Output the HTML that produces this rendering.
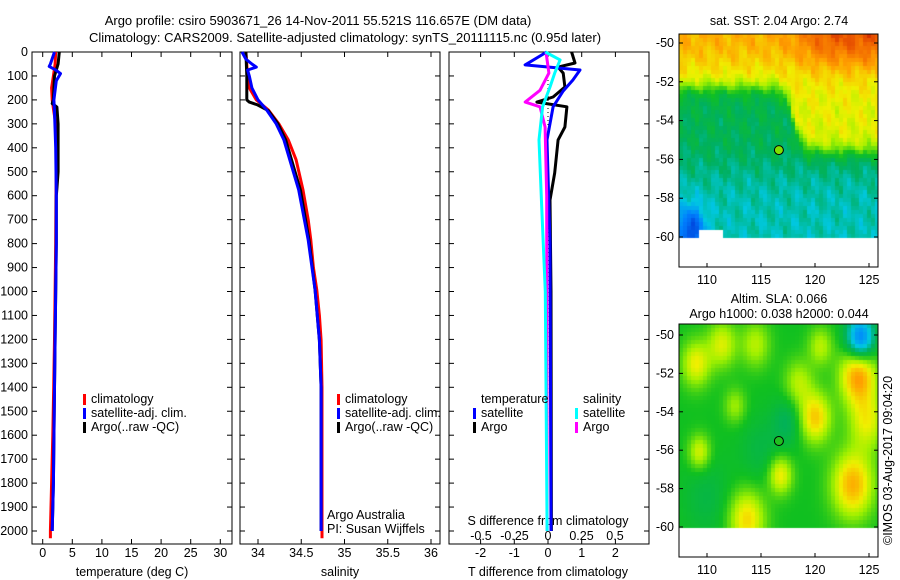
<!DOCTYPE html>
<html><head><meta charset="utf-8">
<style>
html,body{margin:0;padding:0;background:#fff;}
svg text{font-family:"Liberation Sans",Arial,sans-serif;font-size:12.5px;fill:#000;}
#wrap{position:relative;width:900px;height:580px;overflow:hidden;}
canvas{position:absolute;}
</style></head>
<body>
<div id="wrap">
<canvas id="map1" width="199" height="206" style="left:679px;top:34px;"></canvas>
<canvas id="map2" width="199" height="205" style="left:679px;top:324px;"></canvas>
<svg id="svg" width="900" height="580" style="position:absolute;left:0;top:0;" xmlns="http://www.w3.org/2000/svg">
<text x="318" y="25" text-anchor="middle" style="font-size:13px">Argo profile: csiro 5903671_26 14-Nov-2011 55.521S 116.657E (DM data)</text>
<text x="345" y="42" text-anchor="middle" style="font-size:13px">Climatology: CARS2009. Satellite-adjusted climatology: synTS_20111115.nc (0.95d later)</text>
<g id="g"></g>
</svg>
</div>
<script>
// ---------- data ----------
const depthTicks=[0,100,200,300,400,500,600,700,800,900,1000,1100,1200,1300,1400,1500,1600,1700,1800,1900,2000];
const tempTicks=[0,5,10,15,20,25,30];
const salTicks=[34,34.5,35,35.5,36];
const salTickLabels=["34","34.5","35","35.5","36"];
const tdTicks=[-2,-1,0,1,2];
const sdTicks=[-0.5,-0.25,0,0.25,0.5];
const sdTickLabels=["-0.5","-0.25","0","0.25","0.5"];
const lonTicks=[110,115,120,125];
const latTicks=[-50,-52,-54,-56,-58,-60];

const climTDepth=[0,50,100,150,200,250,300,400,600,800,1000,1200,1400,1600,1800,2000,2030];
const climT=[2.2,2.1,1.8,1.5,1.6,1.9,2.2,2.3,2.25,2.2,2.1,2.0,1.85,1.7,1.5,1.3,1.3];
const satTDepth=[0,50,60,75,90,120,200,250,400,600,800,1000,1400,1800,2000];
const satT=[2.0,1.3,1.1,2.2,3.0,2.3,1.9,2.0,2.2,2.3,2.3,2.2,2.0,1.8,1.6];
const argoTDepth=[0,50,100,200,215,230,300,500,570,600,800,1000,1400,1800,2000];
const argoT=[2.8,2.6,2.0,1.8,1.6,2.4,2.6,2.6,2.4,2.3,2.3,2.2,2.0,1.8,1.6];

const climSDepth=[0,100,150,200,242,300,367,450,576,700,785,900,994,1100,1203,1400,2000,2030];
const climS=[33.86,33.88,33.9,33.98,34.12,34.24,34.35,34.44,34.52,34.58,34.61,34.64,34.68,34.71,34.73,34.74,34.74,34.74];
const satSDepth=[0,30,50,63,75,100,150,200,242,300,367,576,785,994,1203,1400,2000];
const satS=[33.815,33.86,33.93,33.98,33.88,33.9,33.93,34.0,34.1,34.21,34.3,34.47,34.58,34.66,34.71,34.73,34.73];
const argoSDepth=[0,100,200,209,220,245,300,367,576,785,994,1203,1400,2000];
const argoS=[33.86,33.87,33.87,33.9,33.99,34.12,34.23,34.32,34.49,34.59,34.66,34.71,34.73,34.73];

const satTdDepth=[0,54,75,117,163,229,367,800,2000];
const satTd=[-0.04,-0.68,0.95,0.74,0.45,0.15,-0.03,0.06,0.09];
const argoTdDepth=[0,46,63,88,146,188,209,229,313,367,505,618,1000,2000];
const argoTd=[0.7,0.8,0.3,0.45,0.5,0.15,-0.33,0.56,0.5,0.3,0.2,0.06,0.09,0.1];
const satSdDepth=[0,33,88,146,229,367,646,1000,2000];
const satSd=[-0.02,0.09,0.05,0.015,-0.04,-0.067,-0.047,-0.02,-0.007];
const argoSdDepth=[0,88,160,209,229,313,600,2000];
const argoSd=[-0.015,0.007,-0.06,-0.17,-0.06,-0.022,-0.01,-0.007];

const argoLon=116.657, argoLat=-55.521;

// ---------- scales ----------
const yP=p=>52+p*0.2395;
const xT=t=>42.7+t*5.92;
const xS=s=>258+(s-34)*86.5;
const xTd=d=>548+d*33.7;
const xSd=d=>548+d*134;
const NS='http://www.w3.org/2000/svg';
const g=document.getElementById('g');
function el(tag,attrs,parent){const e=document.createElementNS(NS,tag);for(const k in attrs)e.setAttribute(k,attrs[k]);(parent||g).appendChild(e);return e;}
function txt(x,y,s,anchor,name){const t=el('text',{x:x,y:y,'text-anchor':anchor||'start'});t.textContent=s;


return t;}

const panels=[[32,232],[240,440],[449,649]];
panels.forEach((p,i)=>{
 const r=el('rect',{x:p[0],y:52,width:p[1]-p[0],height:492,fill:'none',stroke:'#000','stroke-width':1});
 
 
 depthTicks.forEach(d=>{
  el('line',{x1:p[0],x2:p[0]+5,y1:yP(d),y2:yP(d),stroke:'#000'});
  el('line',{x1:p[1]-5,x2:p[1],y1:yP(d),y2:yP(d),stroke:'#000'});
 });
});
depthTicks.forEach(d=>{txt(28,yP(d)+4,String(d),'end','depth-tick-label');});

function xt(x){el('line',{x1:x,x2:x,y1:52,y2:57,stroke:'#000'});el('line',{x1:x,x2:x,y1:539,y2:544,stroke:'#000'});}
tempTicks.forEach(t=>{xt(xT(t));txt(xT(t),557,String(t),'middle','temperature-tick-label');});
salTicks.forEach((s,i)=>{xt(xS(s));txt(xS(s),557,salTickLabels[i],'middle','salinity-tick-label');});
tdTicks.forEach(t=>{xt(xTd(t));txt(xTd(t),557,String(t),'middle','t-diff-tick-label');});
sdTicks.forEach((s,i)=>{txt(xSd(s),540,sdTickLabels[i],'middle','s-diff-tick-label');});
txt(132,576,'temperature (deg C)','middle','temperature-axis-title');
txt(340,576,'salinity','middle','salinity-axis-title');
txt(548,576,'T difference from climatology','middle','t-diff-axis-title');
txt(548,525,'S difference from climatology','middle','s-diff-axis-title');
txt(327,519,'Argo Australia','start','credit-argo-australia');
txt(327,533,'PI: Susan Wijffels','start','credit-pi');

const z=el('line',{x1:548,x2:548,y1:52,y2:531,stroke:'#000','stroke-dasharray':'1,3'});



function line(depths,vals,xf,color,name){
 const pts=depths.map((d,i)=>xf(vals[i]).toFixed(1)+','+yP(d).toFixed(1)).join(' ');
 const pl=el('polyline',{points:pts,fill:'none',stroke:color,'stroke-width':3,'stroke-linejoin':'round'});
 
 
}
line(climTDepth,climT,xT,'#ff0000','temp-climatology-line');
line(argoTDepth,argoT,xT,'#000000','temp-argo-line');
line(satTDepth,satT,xT,'#0000ff','temp-satellite-line');
line(climSDepth,climS,xS,'#ff0000','sal-climatology-line');
line(argoSDepth,argoS,xS,'#000000','sal-argo-line');
line(satSDepth,satS,xS,'#0000ff','sal-satellite-line');
line(argoTdDepth,argoTd,xTd,'#000000','t-diff-argo-line');
line(satTdDepth,satTd,xTd,'#0000ff','t-diff-satellite-line');
line(argoSdDepth,argoSd,xSd,'#ff00ff','s-diff-argo-line');
line(satSdDepth,satSd,xSd,'#00ffff','s-diff-satellite-line');

function leg(x,y,color,label,name){
 const r=el('rect',{x:x,y:y-9,width:3,height:11,fill:color});
 
 
 txt(x+8,y,label,'start',name);
}
[[83,'#ff0000','climatology'],[83,'#0000ff','satellite-adj. clim.'],[83,'#000','Argo(..raw -QC)']].forEach((a,i)=>leg(a[0],403+i*14,a[1],a[2],'legend-entry'));
[[337,'#ff0000','climatology'],[337,'#0000ff','satellite-adj. clim.'],[337,'#000','Argo(..raw -QC)']].forEach((a,i)=>leg(a[0],403+i*14,a[1],a[2],'legend-entry'));
txt(481,403,'temperature','start','legend-temperature-header');
txt(583,403,'salinity','start','legend-salinity-header');
leg(473,417,'#0000ff','satellite','legend-entry');
leg(473,431,'#000','Argo','legend-entry');
leg(575,417,'#00ffff','satellite','legend-entry');
leg(575,431,'#ff00ff','Argo','legend-entry');

// ---------- maps ----------
const stops=[[0,[0,48,208]],[0.15,[0,128,255]],[0.27,[0,200,224]],[0.36,[0,176,96]],[0.45,[16,192,32]],[0.55,[160,240,0]],[0.62,[240,240,0]],[0.72,[255,160,0]],[0.82,[240,96,0]],[0.9,[192,16,0]],[1,[144,16,0]]];
function cmap(v){v=Math.max(0,Math.min(1,v));for(let i=1;i<stops.length;i++){if(v<=stops[i][0]){const a=stops[i-1],b=stops[i],f=(v-a[0])/(b[0]-a[0]);return 'rgb('+a[1].map((c,j)=>Math.round(c+(b[1][j]-c)*f)).join(',')+')';}}return 'rgb(144,16,0)';}
const sig=x=>1/(1+Math.exp(-x));
function sst(lon,lat){
 const t=-52.3-3.3*sig((lon-118)*2.5);
 let v=0.38+0.23*sig((lat-t)*4)+0.24*sig((lat+51)*1.8)*(0.4+0.6*sig(lon-119));
 v-=0.08*sig((-56.5-lat)*1.5);
 v-=0.25*Math.exp(-((lon-108.5)**2+(lat+59.7)**2)/1.5);
 v+=0.035*Math.sin(lon*3.1+lat*1.7)*Math.cos(lat*2.3-lon)+0.015*Math.sin(lon*7.3)*Math.cos(lat*6.1);
 return v;
}
const blobs=[[124,-52.1,0.28,1.5],[124.2,-50.2,-0.32,1.2],[120,-54.3,0.22,1.3],[123.5,-57.8,0.25,1.7],[113.7,-59.6,0.2,1.5],[109,-51.5,0.17,1.2],[109.3,-56.1,0.15,0.9],[116.8,-57.3,0.18,1.0],[111.4,-50.5,0.15,1.2],[120.5,-50.6,0.12,1.0],[118.5,-52.5,0.12,1.2],[124.8,-54.5,0.16,1.5],[117.5,-54.5,-0.08,1.3],[114.5,-50.5,0.12,1.2],[112.6,-53.7,0.1,0.9],[110,-58.5,-0.05,2],[115,-56,-0.05,1.8]];
function sla(lon,lat){let v=0.45;blobs.forEach(b=>{v+=b[2]*Math.exp(-(((lon-b[0])/b[3])**2+((lat-b[1])/(b[3]*0.9))**2)/1.2);});return v;}
function drawMap(id,f,latTop,pxPerLat,notch){
 const c=document.getElementById(id).getContext('2d');
 const W=199,H=206;
 for(let y=0;y<H;y+=4)for(let x=0;x<W;x+=4){
  const lon=110+(x+679+2-707)/10.8;
  const lat=-50-(y+2-latTop)/pxPerLat;
  if(lat<-60.1)continue;
  if(notch&&lon>109.2&&lon<111.4&&lat<-59.7)continue;
  c.fillStyle=cmap(f(lon,lat));c.fillRect(x,y,4,4);
 }
}
drawMap('map1',sst,9,19.4,true);
drawMap('map2',sla,11,19.2,false);

function mapFrame(top,bottom,latY0,pxLat,n){
 const r=el('rect',{x:679,y:top,width:199,height:bottom-top,fill:'none',stroke:'#000'});
 
 
 lonTicks.forEach(l=>{const x=707+(l-110)*10.8;el('line',{x1:x,x2:x,y1:bottom-4,y2:bottom,stroke:'#000'});txt(x,bottom+17,String(l),'middle',n+'-lon-label');});
 latTicks.forEach(l=>{const y=latY0+(-50-l)*pxLat;el('line',{x1:679,x2:683,y1:y,y2:y,stroke:'#000'});el('line',{x1:874,x2:878,y1:y,y2:y,stroke:'#000'});txt(674,y+4,String(l),'end',n+'-lat-label');});
}
mapFrame(34,267,43,19.4,'sst-map');
mapFrame(324,557,335,19.2,'sla-map');
[[43,19.4],[335,19.2]].forEach((m,i)=>{
 const c=el('circle',{cx:707+(argoLon-110)*10.8,cy:m[0]+(-50-argoLat)*m[1],r:4.5,fill:i==0?'#80e000':'#20c020',stroke:'#000','stroke-width':1});
 
 
});
txt(779,25,'sat. SST: 2.04 Argo: 2.74','middle','sst-map-title');
txt(779,303,'Altim. SLA: 0.066','middle','sla-map-title');
txt(779,318,'Argo h1000: 0.038 h2000: 0.044','middle','sla-map-subtitle');
const v=txt(0,0,'©IMOS 03-Aug-2017 09:04:20','start','imos-timestamp');
v.setAttribute('transform','translate(892,545) rotate(-90)');
</script>
</body></html>
